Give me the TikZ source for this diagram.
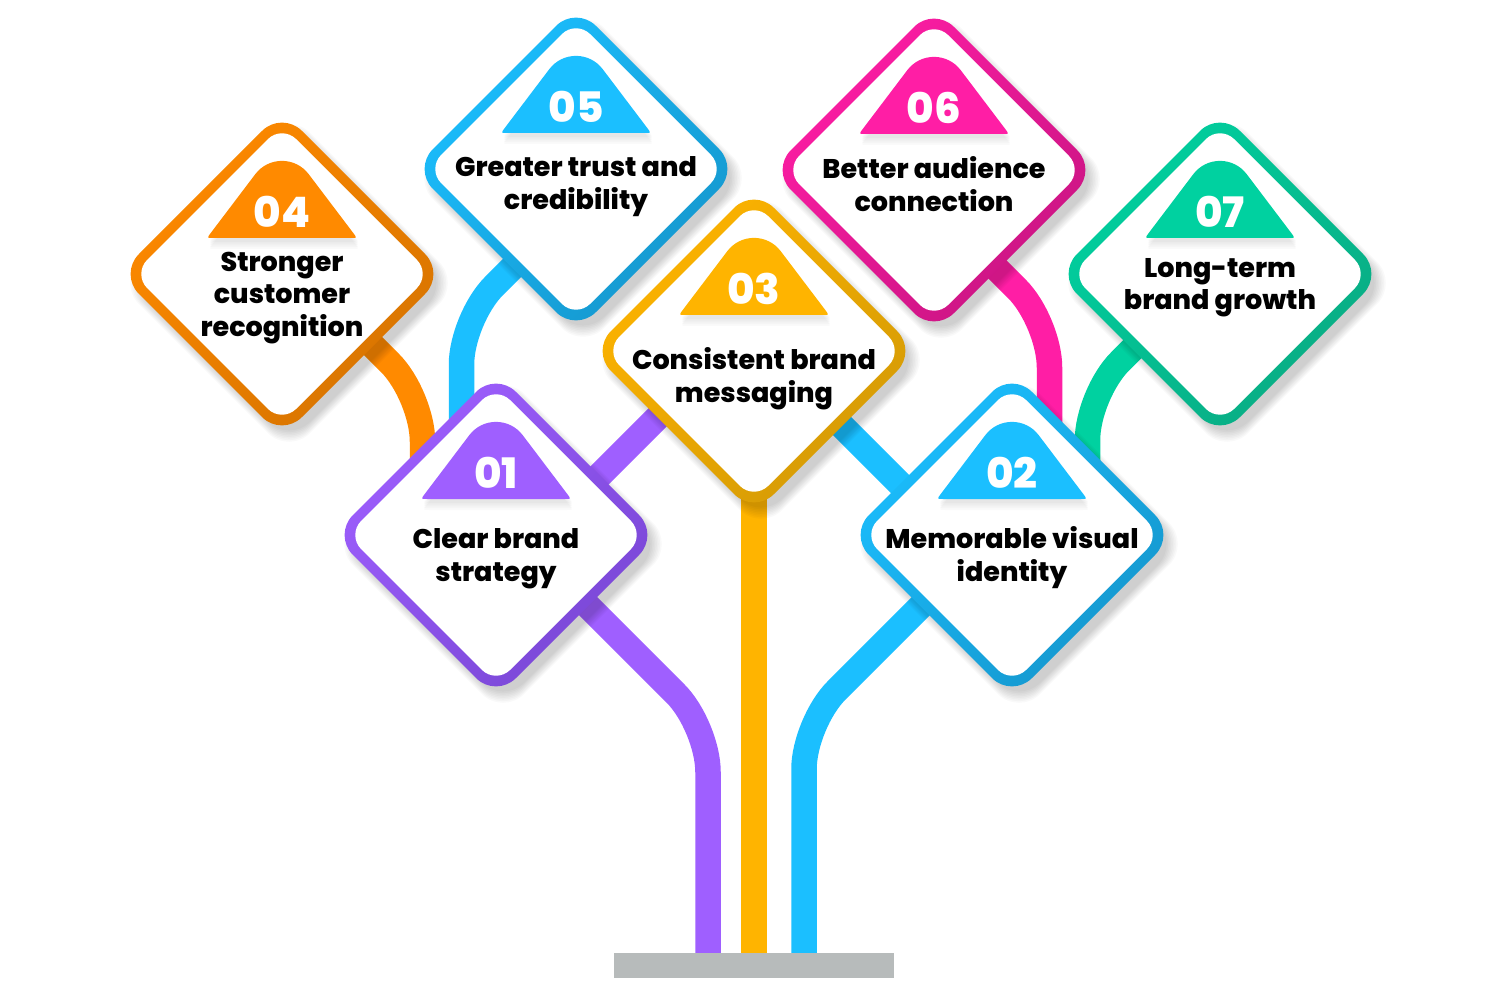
\documentclass[tikz,border=0pt]{standalone}
\usepackage{fontspec}
\setmainfont{Poppins}[BoldFont={Poppins ExtraBold}]
\newfontfamily\numfont{Poppins}[BoldFont={Poppins ExtraBold}]
\definecolor{oLight}{HTML}{FF8A00}\definecolor{oDark}{HTML}{D67300}
\definecolor{bLight}{HTML}{1BBFFF}\definecolor{bDark}{HTML}{1596CC}
\definecolor{kLight}{HTML}{FF1EA5}\definecolor{kDark}{HTML}{C81482}
\definecolor{gLight}{HTML}{00D1A0}\definecolor{gDark}{HTML}{0AAA82}
\definecolor{yLight}{HTML}{FFB400}\definecolor{yDark}{HTML}{D39A06}
\definecolor{pLight}{HTML}{9F5FFF}\definecolor{pDark}{HTML}{7846D4}
\definecolor{baseGray}{HTML}{B7BBBB}
\tikzset{
  stem/.style={line width=25.5pt, line cap=butt, rounded corners=46pt},
  lbl/.style={font=\fontsize{27}{32.5}\selectfont\bfseries, align=center, text=black, inner sep=0pt},
  numlbl/.style={font=\numfont\fontsize{42}{42}\selectfont\bfseries, text=white, inner sep=0pt},
}
\newcommand\tabpath{(0,-36) -- (-69,-36) .. controls (-75,-36) .. (-71.4,-40.8) -- (-26.8,-99.7) .. controls (-13.3,-117.6) and (13.3,-117.6) .. (26.8,-99.7) -- (71.4,-40.8) .. controls (75,-36) .. (69,-36) -- cycle}
\newcommand\dshadow[2]{%
  \begin{scope}[shift={(#1,#2)}]
    \foreach \k in {0,...,7}{
      \fill[black,opacity=0.022,rounded corners=30pt] (7,{9-160-1.6*\k}) -- ({7+160+1.6*\k},9) -- (7,{9+160+1.6*\k}) -- ({7-160-1.6*\k},9) -- cycle;
    }
  \end{scope}}
\newcommand\dbox[8]{%
  \coordinate (#1) at (#2,#3);
  \begin{scope}[shift={(#2,#3)}]
    \shade[top color=#4, bottom color=#5, shading angle=45, rounded corners=28pt]
      (81.5,-81.5) -- (163,0) -- (0,163) -- (-163,0) -- (0,-163) -- cycle;
    \fill[white, rounded corners=20pt]
      (74.5,-74.5) -- (149,0) -- (0,149) -- (-149,0) -- (0,-149) -- cycle;
    \foreach \k in {1,...,5}{
      \fill[black,opacity=0.018,shift={(2,{2+1.8*\k})}] \tabpath;
    }
    \fill[#4] \tabpath;
    \node[numlbl] (#1n) at (0,-62) {#6};
    \node[lbl] (#1t) at (0,#8) {#7};
  \end{scope}}
\begin{document}
\begin{tikzpicture}[x=1pt,y=-1pt]
\useasboundingbox (0,0) rectangle (1500,1000);
\fill[white] (0,0) rectangle (1500,1000);
% stems
\coordinate (pA) at (708,965); \coordinate (pB) at (708,726); \coordinate (pC) at (560,578);
\coordinate (pD) at (560,515); \coordinate (pE) at (690,385);
\coordinate (yA) at (754,965); \coordinate (yB) at (754,420);
\coordinate (bA) at (804,965); \coordinate (bB) at (804,723); \coordinate (bC) at (940,587);
\coordinate (bD) at (950,534); \coordinate (bE) at (820,404);
\coordinate (oA) at (422.5,500); \coordinate (oB) at (422.5,395.5); \coordinate (oC) at (330,303);
\coordinate (cA) at (461.5,470); \coordinate (cB) at (461.5,318.5); \coordinate (cC) at (540,240);
\coordinate (kA) at (1049.5,470); \coordinate (kB) at (1049.5,321.5); \coordinate (kC) at (968,240);
\coordinate (gA) at (1087.5,500); \coordinate (gB) at (1087.5,394); \coordinate (gC) at (1180,301.5);
\draw[stem, pLight] (pA) -- (pB) -- (pC);
\draw[stem, pLight] (pD) -- (pE);
\draw[stem, yLight] (yA) -- (yB);
\draw[stem, bLight] (bA) -- (bB) -- (bC);
\draw[stem, bLight] (bD) -- (bE);
\draw[stem, oLight] (oA) -- (oB) -- (oC);
\draw[stem, bLight] (cA) -- (cB) -- (cC);
\draw[stem, kLight] (kA) -- (kB) -- (kC);
\draw[stem, gLight] (gA) -- (gB) -- (gC);
\node[fill=baseGray, minimum width=280pt, minimum height=25pt, inner sep=0pt] (base) at (754,965.5) {};
% shadows
\dshadow{282}{274}\dshadow{576}{169}\dshadow{934}{170}\dshadow{1220}{274}
\dshadow{754}{351}\dshadow{496}{535}\dshadow{1012}{535}
% boxes
\dbox{d4}{282}{274}{oLight}{oDark}{04}{Stronger\\customer\\recognition}{24}
\dbox{d5}{576}{169}{bLight}{bDark}{05}{Greater trust and\\credibility}{17.5}
\dbox{d6}{934}{170}{kLight}{kDark}{06}{Better audience\\connection}{14}
\dbox{d7}{1220}{274}{gLight}{gDark}{07}{Long-term\\brand growth}{13.5}
\dbox{d3}{754}{351}{yLight}{yDark}{03}{Consistent brand\\messaging}{27.5}
\dbox{d1}{496}{535}{pLight}{pDark}{01}{Clear brand\\strategy}{23.5}
\dbox{d2}{1012}{535}{bLight}{bDark}{02}{Memorable visual\\identity}{22.5}
\end{tikzpicture}
\end{document}
